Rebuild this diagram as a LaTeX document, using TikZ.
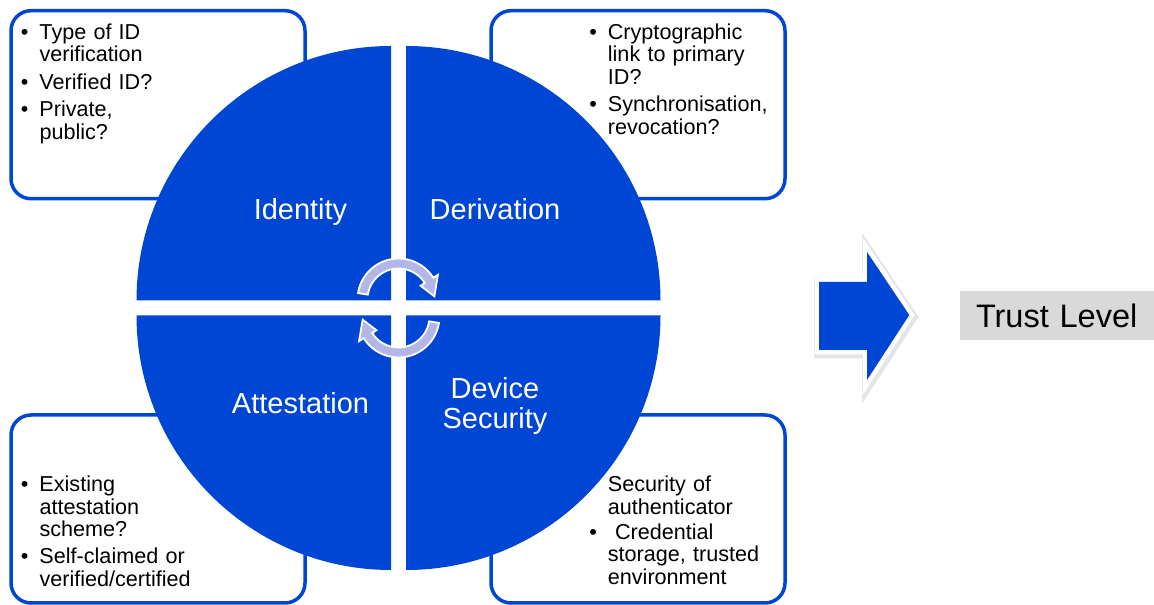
\documentclass[tikz,border=0pt]{standalone}
\usepackage{fontspec}
\setmainfont{Liberation Sans}
\usetikzlibrary{shadows}
\definecolor{qblue}{RGB}{0,70,212}
\definecolor{lav}{RGB}{180,182,232}
\newcommand\bul{\leavevmode\llap{\textbullet\hspace{11pt}}}
\begin{document}
\begin{tikzpicture}[x=1pt,y=1pt,
  infobox/.style={draw=qblue, line width=3.5pt, fill=white, rounded corners=20pt,
    minimum width=294pt, minimum height=188pt, inner sep=0pt},
  quarter/.style={fill=qblue},
  qlabel/.style={text=white, font=\fontsize{29}{30}\selectfont, inner sep=0pt},
  btext/.style={font=\fontsize{21.6}{22.4}\selectfont, inner sep=0pt, text width=260pt,
    align=left, anchor=base west},
  carrow/.style={fill=lav, draw=white, line width=1.8pt, line join=miter},
]
\useasboundingbox (0,0) rectangle (1154,605);

% info boxes
\node[infobox] (idbox)  at (158,500.3) {};
\node[infobox] (derbox) at (638,500.3) {};
\node[infobox] (attbox) at (158,96) {};
\node[infobox] (devbox) at (638,96) {};

\node[btext] (idtext) at (39.3,565.5)
  {\bul Type of ID\\verification\\[5pt]\bul Verified ID?\\[5pt]\bul Private,\\public?};
\node[btext] (dertext) at (607.7,565.5)
  {\bul Cryptographic\\link to primary\\ID?\\[5pt]\bul Synchronisation,\\revocation?};
\node[btext] (atttext) at (39.3,113.3)
  {\bul Existing\\attestation\\scheme?\\[5pt]\bul Self-claimed or\\verified/certified};
\node[btext] (devtext) at (607.7,113.3)
  {Security of\\authenticator\\[3pt]\bul\ Credential\\storage, trusted\\environment};

% circle quarters
\fill[quarter] (391,304.5) -- ++(180:254.5) arc[start angle=180, end angle=90, radius=254.5] -- cycle;
\fill[quarter] (406,304.5) -- ++(90:254.5) arc[start angle=90, end angle=0, radius=254.5] -- cycle;
\fill[quarter] (391,289.5) -- ++(180:254.5) arc[start angle=180, end angle=270, radius=254.5] -- cycle;
\fill[quarter] (406,289.5) -- ++(270:254.5) arc[start angle=270, end angle=360, radius=254.5] -- cycle;

\node[qlabel, anchor=base] (ident) at (300.5,385) {Identity};
\node[qlabel, anchor=base] (deriv) at (495,385) {Derivation};
\node[qlabel, anchor=base] (attest) at (300.5,191.7) {Attestation};
\node[qlabel, anchor=center, align=center] (devsec) at (495,199) {Device\\Security};

% circular arrows
\begin{scope}[shift={(398.5,305.5)}]
  \path[carrow] (171:41) arc[start angle=171, end angle=32, radius=41]
    -- (32:46.5) -- (5:36) -- (32:26) -- (32:31)
    arc[start angle=32, end angle=171, radius=31] -- cycle;
\end{scope}
\begin{scope}[shift={(398.5,288.5)}]
  \path[carrow] (351:41) arc[start angle=351, end angle=212, radius=41]
    -- (212:46.5) -- (185:36) -- (212:26) -- (212:31)
    arc[start angle=212, end angle=351, radius=31] -- cycle;
\end{scope}

% big block arrow
\path[draw=black, opacity=0.10, line width=13pt, line join=miter, shift={(1.5,-2)}]
  (819,323) -- (867,323) -- (867,353) -- (909.3,290) -- (867,225) -- (867,255) -- (819,255) -- cycle;
\path[draw=white, line width=9pt, line join=miter, fill=qblue]
  (819,323) -- (867,323) -- (867,353) -- (909.3,290) -- (867,225) -- (867,255) -- (819,255) -- cycle;
\fill[qblue]
  (819,323) -- (867,323) -- (867,353) -- (909.3,290) -- (867,225) -- (867,255) -- (819,255) -- cycle;

% trust level
\node[anchor=west, draw=white, line width=5pt, fill=black!15,
  minimum width=215pt, minimum height=54pt, text width=185pt, align=left,
  inner xsep=19pt, font=\fontsize{32.5}{36}\selectfont,
  drop shadow={shadow xshift=1.5pt, shadow yshift=-2pt, opacity=0.3, fill=black}]
  (trust) at (954.5,289) {Trust Level};
\end{tikzpicture}
\end{document}
